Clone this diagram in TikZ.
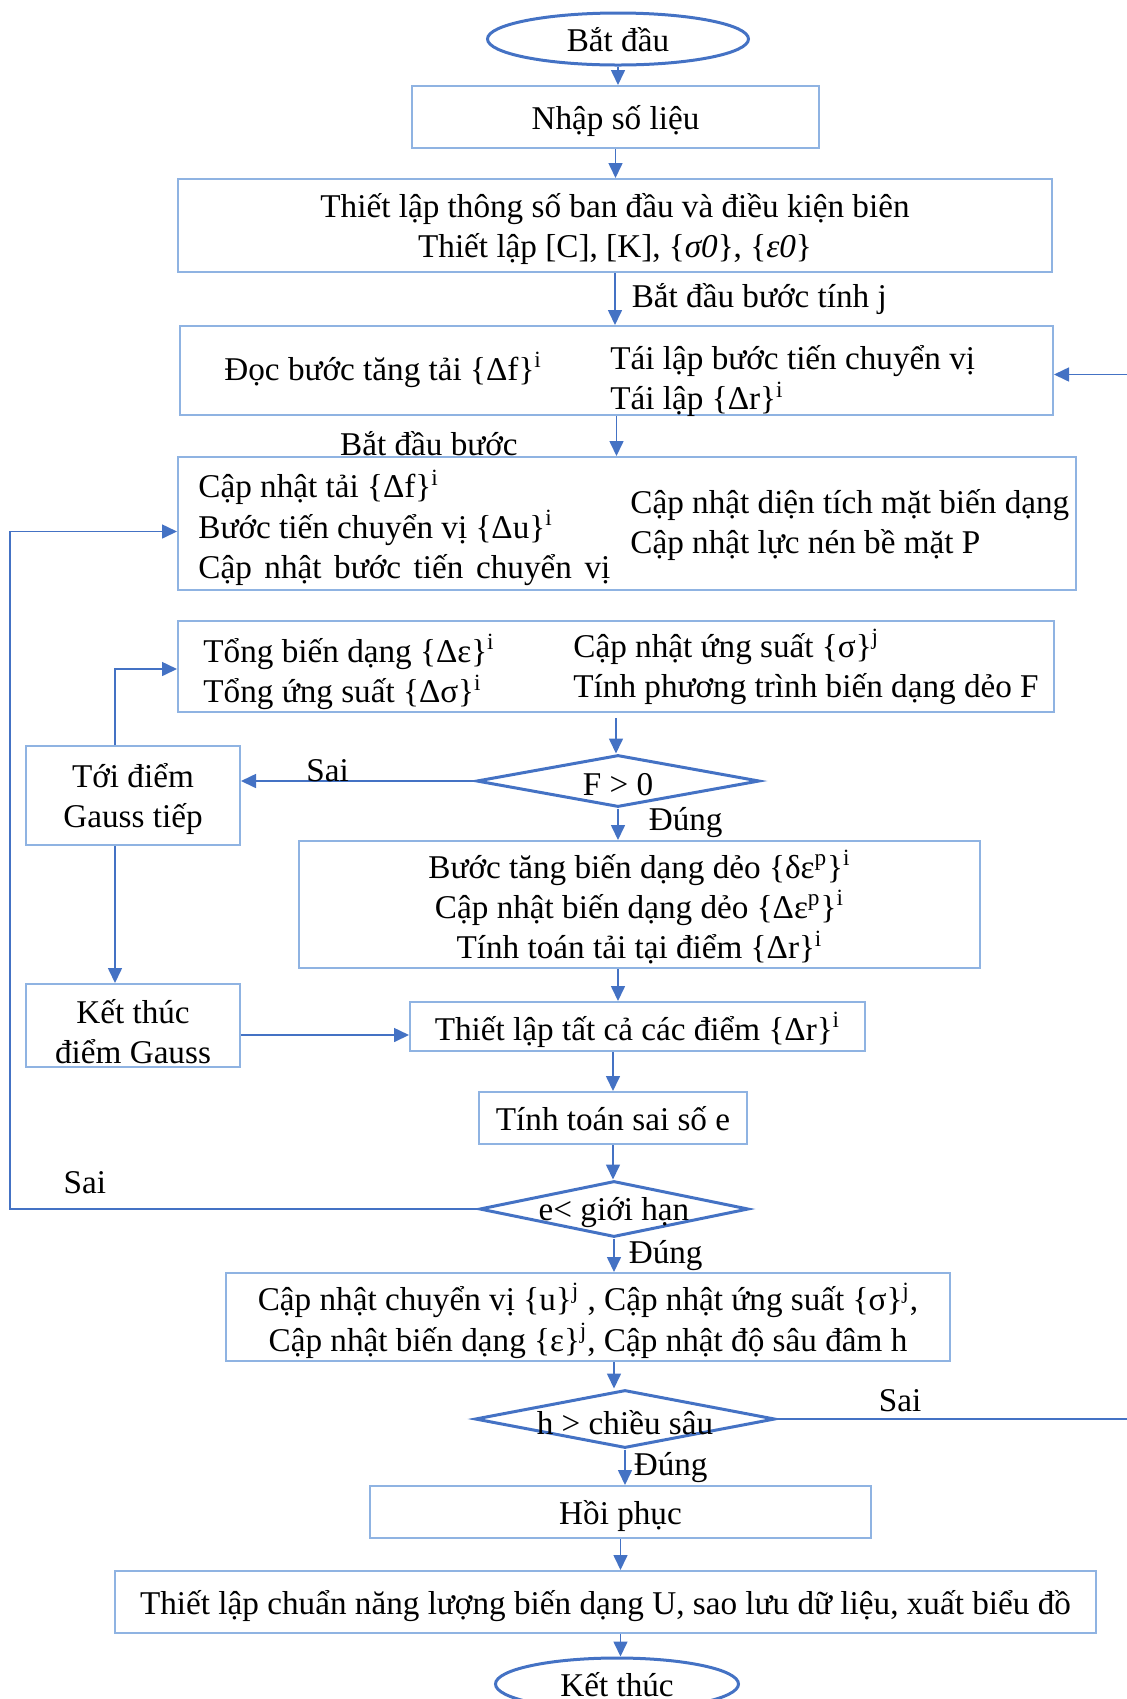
\documentclass[tikz,border=0pt]{standalone}
\usepackage{fontspec}
\setmainfont{Liberation Serif}
\usetikzlibrary{shapes.geometric, arrows.meta}
\definecolor{line-color}{RGB}{68, 114, 196}
\definecolor{box-color}{RGB}{143, 179, 226}

\begin{document}
\begin{tikzpicture}[x=0.5pt, y=-0.5pt, font=\fontsize{16.6}{20.2}\selectfont,
    box/.style={rectangle, draw=box-color, line width=1pt, align=center, inner sep=0pt, text depth=0pt},
    term/.style={ellipse, draw=line-color, line width=1.5pt, inner sep=0pt, text depth=0pt},
    decision/.style={diamond, draw=line-color, line width=1.5pt, inner sep=0pt},
    txt/.style={anchor=west, align=left, inner sep=0pt},
    lbl/.style={inner sep=1pt},
    arrow/.style={draw=line-color, line width=0.8pt, -{Triangle[width=7pt, length=7.5pt]}}]
\useasboundingbox (0,0) rectangle (1127,1699);

% main column
\node (start) [term, minimum width=130.5pt, minimum height=26pt] at (618,39) {Bắt đầu};
\node (input) [box, minimum width=203.5pt, minimum height=31pt] at (615.5,117) {Nhập số liệu};
\node (init) [box, minimum width=437pt, minimum height=46.5pt] at (615,225.5) {Thiết lập thông số ban đầu và điều kiện biên\\Thiết lập [C], [K], \{\textit{σ0}\}, \{\textit{ε0}\}};

\node (readstep) [box, minimum width=436.5pt, minimum height=44.5pt] at (616.5,370.5) {};
\node (readleft) [txt] at (224,370) {Đọc bước tăng tải \{Δf\}\textsuperscript{i}};
\node (readright) [txt] at (610,381) {Tái lập bước tiến chuyển vị\\Tái lập \{Δr\}\textsuperscript{i}};

\node (update) [box, minimum width=449pt, minimum height=66.5pt] at (627,523.5) {};
\node (updleft) [txt] at (198,528) {Cập nhật tải \{Δf\}\textsuperscript{i}\\Bước tiến chuyển vị \{Δu\}\textsuperscript{i}\\\makebox[206pt][s]{Cập nhật bước tiến chuyển vị}};
\node (updright) [txt] at (630,525) {Cập nhật diện tích mặt biến dạng\\Cập nhật lực nén bề mặt P};

\node (total) [box, minimum width=438pt, minimum height=45.5pt] at (616,666.5) {};
\node (totleft) [txt] at (203,672) {Tổng biến dạng \{Δε\}\textsuperscript{i}\\Tổng ứng suất \{Δσ\}\textsuperscript{i}};
\node (totright) [txt] at (573,667) {Cập nhật ứng suất \{σ\}\textsuperscript{j}\\Tính phương trình biến dạng dẻo F};

\node (checkF) [decision, minimum width=141.5pt, minimum height=26pt, label={[yshift=-2pt]center:F > 0}] at (618,781) {};
\node (plastic) [box, minimum width=340.5pt, minimum height=63.5pt] at (639.5,904.5) {Bước tăng biến dạng dẻo \{δε\textsuperscript{p}\}\textsuperscript{i}\\Cập nhật biến dạng dẻo \{Δε\textsuperscript{p}\}\textsuperscript{i}\\Tính toán tải tại điểm \{Δr\}\textsuperscript{i}};
\node (assemble) [box, minimum width=227.5pt, minimum height=24.5pt] at (637.5,1026.5) {Thiết lập tất cả các điểm \{Δr\}\textsuperscript{i}};
\node (error) [box, minimum width=134pt, minimum height=26pt] at (613,1118) {Tính toán sai số e};
\node (checke) [decision, minimum width=134.5pt, minimum height=28pt, label={[yshift=-2pt]center:e< giới hạn}] at (614,1209) {};
\node (result) [box, minimum width=362pt, minimum height=44pt] at (588,1317) {Cập nhật chuyển vị \{u\}\textsuperscript{j} , Cập nhật ứng suất \{σ\}\textsuperscript{j},\\Cập nhật biến dạng \{ε\}\textsuperscript{j}, Cập nhật độ sâu đâm h};
\node (checkh) [decision, minimum width=150pt, minimum height=29pt, label={[yshift=-2pt]center:h > chiều sâu}] at (625,1419) {};
\node (recover) [box, minimum width=250.5pt, minimum height=26pt] at (620.5,1512) {Hồi phục};
\node (output) [box, minimum width=490.5pt, minimum height=31pt] at (605.5,1602) {Thiết lập chuẩn năng lượng biến dạng U, sao lưu dữ liệu, xuất biểu đồ};
\node (stop) [term, minimum width=121.5pt, minimum height=26pt] at (617,1684) {Kết thúc};

% gauss point loop
\node (nextgauss) [box, minimum width=107pt, minimum height=49.5pt] at (133,795.5) {Tới điểm\\Gauss tiếp};
\node (endgauss) [box, minimum width=107pt, minimum height=41.5pt,
    path picture={\node[align=center] at ([yshift=-3pt]path picture bounding box.center) {Kết thúc\\điểm Gauss};}] at (133,1025.5) {};

\coordinate (leftrail) at (10,1209);
\coordinate (rightrail) at (1140,1419);

\draw[arrow] (start.south) -- (start.south |- input.north);
\draw[arrow] (input.south) -- (input.south |- init.north);
\draw[arrow] (init.south) -- (init.south |- readstep.north) node[lbl, midway, right=7pt] {Bắt đầu bước tính j};
\draw[arrow] (readstep.south) -- (readstep.south |- update.north) node[lbl, pos=0.7, left=48pt] {Bắt đầu bước};
\draw[arrow] ([yshift=-2.5pt]total.south) -- (total.south |- checkF.north);
\draw[arrow] (checkF.west) -- (checkF.west -| nextgauss.east) node[lbl, pos=0.63, above=-2pt] {Sai};
\draw[arrow] (checkF.south) -- (checkF.south |- plastic.north) node[lbl, pos=0.45, right=14pt] {Đúng};
\draw[arrow] ([xshift=-9pt]nextgauss.north) |- ([yshift=-1.25pt]total.west);
\draw[arrow] ([xshift=-9pt]nextgauss.south) -- ([xshift=-9pt]endgauss.north);
\draw[arrow] (checkF.south |- plastic.south) -- (checkF.south |- assemble.north);
\draw[arrow] ([yshift=-4.75pt]endgauss.east) -- ([yshift=-4.75pt]endgauss.east -| assemble.west);
\draw[arrow] (error.north |- assemble.south) -- (error.north);
\draw[arrow] (error.south) -- (error.south |- checke.north);
\draw[arrow] (checke.south) -- (checke.south |- result.north) node[lbl, midway, right=6pt] {Đúng};
\draw[arrow] (checke.west) -- (checke.west -| leftrail) node[lbl, pos=0.84, above=6pt] {Sai} |- ([yshift=-4pt]update.west);
\draw[arrow] (checke.south |- result.south) -- (checke.south |- checkh.north);
\draw[arrow] (checkh.south) -- (checkh.south |- recover.north) node[lbl, midway, right=3pt] {Đúng};
\draw[arrow] (checkh.east) -- (checkh.east -| rightrail) node[lbl, pos=0.34, above=2pt] {Sai} |- ([yshift=-2pt]readstep.east);
\draw[arrow] (recover.south) -- (recover.south |- output.north);
\draw[arrow] (recover.south |- output.south) -- (recover.south |- stop.north);
\end{tikzpicture}
\end{document}
